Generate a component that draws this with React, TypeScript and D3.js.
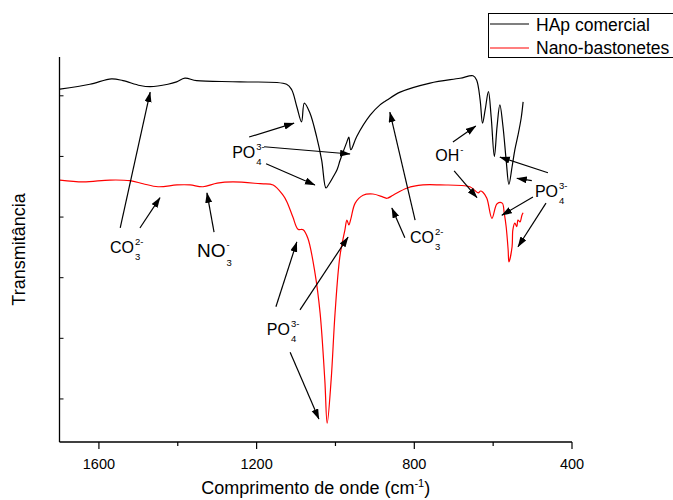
import React from 'react';
import * as d3 from 'd3';

// FTIR spectra (wavenumber in cm^-1, transmittance in arbitrary units)
const HAP_WAVENUMBER = [1699, 1623, 1568, 1539, 1496, 1470, 1425, 1403, 1382, 1352, 1242, 1124, 1111, 1098, 1086, 1079, 1065, 1048, 1035, 1024, 1016, 1006, 996, 988, 971, 966, 961, 946, 912, 887, 876, 869, 836, 760, 684, 651, 642, 633, 627, 620, 612, 605, 597, 590, 583, 575, 567, 560, 552, 545, 537, 529, 524];
const HAP_TRANSMITTANCE = [61.1, 61.9, 62.8, 62.5, 61.7, 61.5, 61.9, 62.3, 62.9, 62.5, 62.3, 61.9, 61.0, 58.2, 55.7, 58.8, 57.2, 53.3, 49.4, 44.8, 45.5, 46.6, 47.8, 49.4, 52.4, 53.2, 51.1, 53.3, 56.8, 58.5, 59.0, 59.3, 60.6, 62.1, 62.9, 63.3, 62.6, 59.3, 55.5, 57.8, 60.7, 56.5, 50.0, 55.0, 58.5, 54.9, 49.4, 45.4, 48.3, 51.1, 53.5, 56.3, 59.0];

const NANO_WAVENUMBER = [1699, 1640, 1572, 1521, 1488, 1450, 1402, 1369, 1336, 1300, 1260, 1191, 1158, 1133, 1123, 1108, 1095, 1082, 1070, 1052, 1039, 1027, 1021, 1011, 1001, 989, 976, 971, 966, 961, 950, 930, 905, 879, 869, 854, 818, 778, 735, 659, 638, 632, 626, 616, 603, 590, 577, 572, 567, 562, 560, 552, 550, 545, 540, 537, 532, 527, 524];
const NANO_TRANSMITTANCE = [46.1, 45.8, 46.1, 46.0, 45.5, 45.0, 45.3, 45.3, 45.0, 45.6, 45.8, 45.5, 45.3, 43.6, 42.5, 40.0, 38.0, 37.9, 36.5, 30.8, 24.2, 13.1, 6.0, 13.1, 24.2, 33.4, 37.9, 39.5, 38.7, 39.7, 42.3, 43.6, 43.8, 43.3, 43.1, 43.6, 44.8, 45.3, 45.3, 45.0, 44.0, 44.3, 44.1, 43.1, 39.8, 42.2, 42.3, 40.7, 38.4, 34.6, 32.6, 35.1, 37.9, 39.0, 38.4, 39.5, 39.2, 40.3, 40.7];

const SERIES_NAMES = ['HAp comercial', 'Nano-bastonetes'];
const SERIES_COLORS = ['#000000', '#ff0000'];

const X_MAJOR_TICKS = [1600, 1200, 800, 400];
const X_MINOR_TICKS = [1400, 1000, 600];
const Y_TICKS = [10, 20, 30, 40, 50, 60];

// Band assignments: ion, charge, subscript count, anchor (wavenumber, transmittance)
const BAND_IONS = ['CO', 'NO', 'PO', 'CO', 'OH', 'PO', 'PO'];
const BAND_CHARGES = ['2-', '-', '3-', '2-', '-', '3-', '3-'];
const BAND_COUNTS = ['3', '3', '4', '3', '', '4', '4'];
const BAND_WN = [1572, 1351, 1262, 811, 747, 494, 1174];
const BAND_T = [34.1, 33.4, 49.7, 35.7, 49.2, 43.3, 20.5];

// Arrows from band labels to the absorption features: [fromWn, fromT, toWn, toT]
const BAND_ARROWS = [
  [1546, 38.2, 1470, 60.6],
  [1496, 38.2, 1445, 43.2],
  [1308, 37.5, 1326, 44.0],
  [1219, 53.2, 1105, 55.5],
  [1181, 51.6, 963, 50.4],
  [1176, 48.8, 1052, 45.3],
  [798, 39.5, 862, 57.3],
  [824, 36.6, 857, 41.5],
  [702, 52.4, 644, 55.0],
  [699, 47.6, 641, 43.2],
  [461, 47.3, 583, 49.9],
  [502, 46.0, 540, 46.4],
  [499, 43.3, 578, 40.3],
  [466, 42.3, 537, 35.1],
  [1151, 25.2, 1098, 35.9],
  [1090, 24.7, 968, 36.7],
  [1115, 17.7, 1042, 6.7],
];

const FONT = '"Liberation Sans", Arial, Helvetica, sans-serif';

let measureCtx: CanvasRenderingContext2D | null = null;
function textWidth(text: string, size: number): number {
  if (!measureCtx) measureCtx = document.createElement('canvas').getContext('2d');
  if (!measureCtx) return text.length * size * 0.6;
  measureCtx.font = `${size}px ${FONT}`;
  return measureCtx.measureText(text).width;
}

const WIDTH = 673;
const HEIGHT = 500;

export default function App() {
  const x = d3.scaleLinear().domain([1700, 400]).range([59.5, 572]);
  const y = d3.scaleLinear().domain([2.9, 66.4]).range([442, 57]);

  const line = d3
    .line<[number, number]>()
    .x((d) => x(d[0]))
    .y((d) => y(d[1]))
    .curve(d3.curveCatmullRom.alpha(0.5));

  const hap: [number, number][] = HAP_WAVENUMBER.map((w, i) => [w, HAP_TRANSMITTANCE[i]]);
  const nano: [number, number][] = NANO_WAVENUMBER.map((w, i) => [w, NANO_TRANSMITTANCE[i]]);

  const [x0, x1] = x.range();
  const [yb, yt] = y.range();

  return (
    <svg
      width={WIDTH}
      height={HEIGHT}
      style={{ position: 'absolute', left: 0, top: 0, background: '#fff' }}
      fontFamily={FONT}
    >
      <defs>
        <marker
          id="arrowhead"
          markerUnits="userSpaceOnUse"
          markerWidth={11}
          markerHeight={8}
          refX={10}
          refY={3.5}
          orient="auto"
        >
          <path d="M0,0 L10.5,3.5 L0,7 Z" fill="#000" />
        </marker>
      </defs>

      {/* spectra */}
      <path d={line(hap) ?? ''} fill="none" stroke={SERIES_COLORS[0]} strokeWidth={1.2} />
      <path d={line(nano) ?? ''} fill="none" stroke={SERIES_COLORS[1]} strokeWidth={1.2} />

      {/* axes */}
      <line x1={x0} x2={x1} y1={yb} y2={yb} stroke="#000" strokeWidth={1.3} />
      <line x1={x0} x2={x0} y1={yb} y2={yt} stroke="#000" strokeWidth={1.3} />
      {X_MAJOR_TICKS.map((t) => (
        <g key={`xm${t}`}>
          <line x1={x(t)} x2={x(t)} y1={yb} y2={yb + 7} stroke="#000" strokeWidth={1.2} />
          <text x={x(t)} y={yb + 27} textAnchor="middle" fontSize={14.5} fill="#000">
            {t}
          </text>
        </g>
      ))}
      {X_MINOR_TICKS.map((t) => (
        <line key={`xn${t}`} x1={x(t)} x2={x(t)} y1={yb} y2={yb + 4} stroke="#000" strokeWidth={1.2} />
      ))}
      {Y_TICKS.map((t) => (
        <line key={`y${t}`} x1={x0} x2={x0 + 4} y1={y(t)} y2={y(t)} stroke="#000" strokeWidth={1} />
      ))}

      <text x={(x0 + x1) / 2 + 0} y={494} textAnchor="middle" fontSize={18} fill="#000">
        <tspan>Comprimento de onde (cm</tspan>
        <tspan dy={-7} fontSize={11}>-1</tspan>
        <tspan dy={7}>)</tspan>
      </text>
      <text
        transform={`translate(25, ${(yb + yt) / 2 + 0}) rotate(-90)`}
        textAnchor="middle"
        fontSize={18}
        fill="#000"
      >
        Transmitância
      </text>

      {/* band arrows */}
      {BAND_ARROWS.map((a, i) => (
        <line
          key={`a${i}`}
          x1={x(a[0])}
          y1={y(a[1])}
          x2={x(a[2])}
          y2={y(a[3])}
          stroke="#000"
          strokeWidth={1.2}
          markerEnd="url(#arrowhead)"
        />
      ))}

      {/* band labels */}
      {BAND_IONS.map((ion, i) => {
        const size = ion === 'NO' ? 19 : 16;
        const small = 9.5;
        const bx = x(BAND_WN[i]);
        const by = y(BAND_T[i]);
        const sx = bx + textWidth(ion, size) + 1;
        return (
          <g key={`l${i}`} fill="#000">
            <text x={bx} y={by} fontSize={size}>
              {ion}
            </text>
            <text x={sx} y={by - size * 0.5} fontSize={small}>
              {BAND_CHARGES[i]}
            </text>
            {BAND_COUNTS[i] && (
              <text x={sx} y={by + size * 0.45} fontSize={small}>
                {BAND_COUNTS[i]}
              </text>
            )}
          </g>
        );
      })}

      {/* legend */}
      <rect x={488.5} y={13.5} width={200} height={44} fill="#fff" stroke="#000" strokeWidth={1} />
      {SERIES_NAMES.map((name, i) => (
        <g key={name}>
          <line
            x1={490}
            x2={529}
            y1={24 + i * 24}
            y2={24 + i * 24}
            stroke={SERIES_COLORS[i]}
            strokeWidth={1.2}
          />
          <text x={536} y={31 + i * 22.5} fontSize={17.5} fill="#000">
            {name}
          </text>
        </g>
      ))}
    </svg>
  );
}
